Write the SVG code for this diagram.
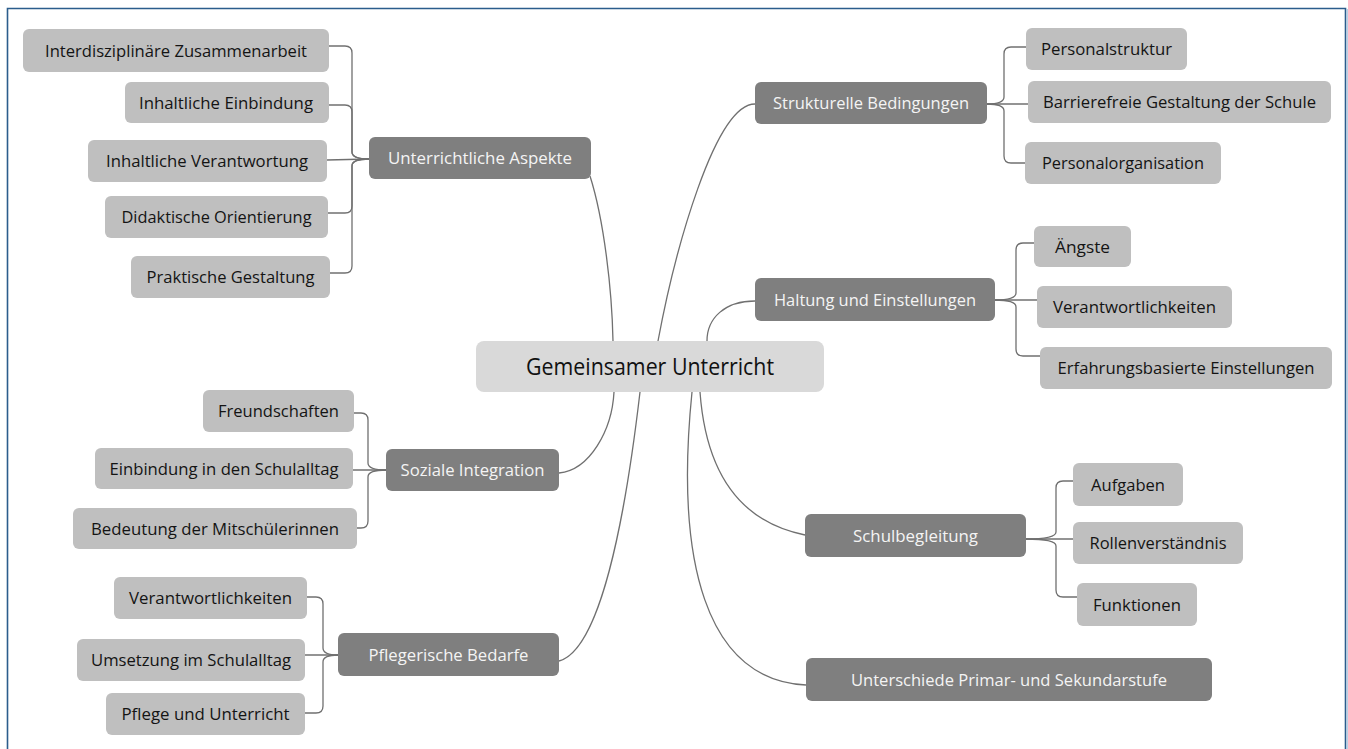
<svg xmlns="http://www.w3.org/2000/svg" width="1348" height="749" viewBox="0 0 1348 749">
<style>
text{font-family:"Open Sans","Noto Sans","Liberation Sans",sans-serif;font-size:17px;text-anchor:middle}
.c rect{fill:#bfbfbf}
.c text{fill:#141414}
.p rect{fill:#7f7f7f}
.p text{fill:#f4f4f4}
.m rect{fill:#d9d9d9}
.m text{fill:#111;font-size:24px}
#connectors path{fill:none;stroke:#707070;stroke-width:1.3}
</style>
<rect x="0" y="0" width="1348" height="749" fill="#ffffff"/>
<path d="M7.5,749 V8.5 H1345.5 V749" fill="none" stroke="#2b5d8c" stroke-width="1.6"/>
<path d="M1347.2,9 V749" fill="none" stroke="#9dbddb" stroke-width="1"/>

<g id="connectors">
<path d="M590,176 C604,220 612,290 613,341"/>
<path d="M658,341 C675,250 715,104 755,104"/>
<path d="M707,341 C707,318 725,301 755,301"/>
<path d="M614,392 C612,430 590,470 559,473"/>
<path d="M640,392 C625,520 600,650 559,661"/>
<path d="M700,392 C705,460 730,520 805,535"/>
<path d="M692,392 C675,560 705,680 806,685"/>
<path d="M329,46 L345,46 Q352,46 352,53 L352,152 Q352,159 369,159"/>
<path d="M329,105 L345,105 Q352,105 352,112 L352,152 Q352,159 369,159"/>
<path d="M327,160 L369,159"/>
<path d="M328,213 L345,213 Q352,213 352,206 L352,166 Q352,159 369,159"/>
<path d="M330,273 L345,273 Q352,273 352,266 L352,166 Q352,159 369,159"/>
<path d="M354,413 L361,413 Q368,413 368,420 L368,463 Q368,470 386,470"/>
<path d="M353,470 L386,470"/>
<path d="M357,528 L361,528 Q368,528 368,521 L368,477 Q368,470 386,470"/>
<path d="M307,597 L316,597 Q323,597 323,604 L323,648 Q323,655 338,655"/>
<path d="M305,655 L338,655"/>
<path d="M305,713 L316,713 Q323,713 323,706 L323,662 Q323,655 338,655"/>
<path d="M987,104 Q1004,104 1004,97 L1004,54 Q1004,47 1011,47 L1026,47"/>
<path d="M987,104 L1028,104"/>
<path d="M987,104 Q1004,104 1004,111 L1004,156 Q1004,163 1011,163 L1025,163"/>
<path d="M995,300 Q1016,300 1016,293 L1016,250 Q1016,243 1023,243 L1034,243"/>
<path d="M995,300 L1037,300"/>
<path d="M995,300 Q1016,300 1016,307 L1016,349 Q1016,356 1023,356 L1040,356"/>
<path d="M1026,539 Q1056,539 1056,532 L1056,488 Q1056,481 1063,481 L1073,481"/>
<path d="M1026,539 L1073,539"/>
<path d="M1026,539 Q1056,539 1056,546 L1056,590 Q1056,597 1063,597 L1077,597"/>
</g>

<g id="n-central" class="m"><rect x="476" y="341" width="348" height="51" rx="8"/><text x="650" y="375" textLength="248" lengthAdjust="spacingAndGlyphs">Gemeinsamer Unterricht</text></g>

<g id="n-unterrichtliche" class="p"><rect x="369" y="137" width="222" height="42" rx="6"/><text x="480" y="164" textLength="184" lengthAdjust="spacingAndGlyphs">Unterrichtliche Aspekte</text></g>
<g id="n-interdisziplinaere" class="c"><rect x="23" y="29" width="306" height="43" rx="6"/><text x="176" y="56.5" textLength="262" lengthAdjust="spacingAndGlyphs">Interdisziplinäre Zusammenarbeit</text></g>
<g id="n-einbindung" class="c"><rect x="125" y="82" width="204" height="41" rx="6"/><text x="226" y="108.5" textLength="174" lengthAdjust="spacingAndGlyphs">Inhaltliche Einbindung</text></g>
<g id="n-verantwortung" class="c"><rect x="88" y="140" width="239" height="42" rx="6"/><text x="207" y="167" textLength="202" lengthAdjust="spacingAndGlyphs">Inhaltliche Verantwortung</text></g>
<g id="n-didaktische" class="c"><rect x="105" y="196" width="223" height="42" rx="6"/><text x="216.5" y="223" textLength="190" lengthAdjust="spacingAndGlyphs">Didaktische Orientierung</text></g>
<g id="n-praktische" class="c"><rect x="131" y="256" width="199" height="42" rx="6"/><text x="230.5" y="283" textLength="168" lengthAdjust="spacingAndGlyphs">Praktische Gestaltung</text></g>

<g id="n-soziale" class="p"><rect x="386" y="449" width="173" height="42" rx="6"/><text x="472.5" y="476" textLength="144" lengthAdjust="spacingAndGlyphs">Soziale Integration</text></g>
<g id="n-freundschaften" class="c"><rect x="203" y="390" width="151" height="42" rx="6"/><text x="278.5" y="417" textLength="121" lengthAdjust="spacingAndGlyphs">Freundschaften</text></g>
<g id="n-einbindung-schulalltag" class="c"><rect x="95" y="448" width="258" height="41" rx="6"/><text x="224" y="474.5" textLength="229" lengthAdjust="spacingAndGlyphs">Einbindung in den Schulalltag</text></g>
<g id="n-bedeutung" class="c"><rect x="73" y="508" width="284" height="41" rx="6"/><text x="215" y="534.5" textLength="248" lengthAdjust="spacingAndGlyphs">Bedeutung der Mitschülerinnen</text></g>

<g id="n-pflegerische" class="p"><rect x="338" y="633" width="221" height="43" rx="6"/><text x="448.5" y="660.5" textLength="160" lengthAdjust="spacingAndGlyphs">Pflegerische Bedarfe</text></g>
<g id="n-verantwortlichkeiten-l" class="c"><rect x="114" y="577" width="193" height="42" rx="6"/><text x="210.5" y="604" textLength="163" lengthAdjust="spacingAndGlyphs">Verantwortlichkeiten</text></g>
<g id="n-umsetzung" class="c"><rect x="77" y="639" width="228" height="42" rx="6"/><text x="191" y="666" textLength="200" lengthAdjust="spacingAndGlyphs">Umsetzung im Schulalltag</text></g>
<g id="n-pflege" class="c"><rect x="106" y="693" width="199" height="42" rx="6"/><text x="205.5" y="720" textLength="168" lengthAdjust="spacingAndGlyphs">Pflege und Unterricht</text></g>

<g id="n-strukturelle" class="p"><rect x="755" y="82" width="232" height="42" rx="6"/><text x="871" y="109" textLength="196" lengthAdjust="spacingAndGlyphs">Strukturelle Bedingungen</text></g>
<g id="n-personalstruktur" class="c"><rect x="1026" y="28" width="161" height="42" rx="6"/><text x="1106.5" y="55" textLength="131" lengthAdjust="spacingAndGlyphs">Personalstruktur</text></g>
<g id="n-barrierefreie" class="c"><rect x="1028" y="81" width="303" height="42" rx="6"/><text x="1179.5" y="108" textLength="273" lengthAdjust="spacingAndGlyphs">Barrierefreie Gestaltung der Schule</text></g>
<g id="n-personalorganisation" class="c"><rect x="1025" y="142" width="196" height="42" rx="6"/><text x="1123" y="169" textLength="162" lengthAdjust="spacingAndGlyphs">Personalorganisation</text></g>

<g id="n-haltung" class="p"><rect x="755" y="278" width="240" height="43" rx="6"/><text x="875" y="305.5" textLength="202" lengthAdjust="spacingAndGlyphs">Haltung und Einstellungen</text></g>
<g id="n-aengste" class="c"><rect x="1034" y="226" width="97" height="41" rx="6"/><text x="1082.5" y="252.5" textLength="55" lengthAdjust="spacingAndGlyphs">Ängste</text></g>
<g id="n-verantwortlichkeiten-r" class="c"><rect x="1037" y="286" width="195" height="42" rx="6"/><text x="1134.5" y="313" textLength="163" lengthAdjust="spacingAndGlyphs">Verantwortlichkeiten</text></g>
<g id="n-erfahrungsbasierte" class="c"><rect x="1040" y="347" width="292" height="42" rx="6"/><text x="1186" y="374" textLength="257" lengthAdjust="spacingAndGlyphs">Erfahrungsbasierte Einstellungen</text></g>

<g id="n-schulbegleitung" class="p"><rect x="805" y="514" width="221" height="43" rx="6"/><text x="915.5" y="541.5" textLength="125" lengthAdjust="spacingAndGlyphs">Schulbegleitung</text></g>
<g id="n-aufgaben" class="c"><rect x="1073" y="463" width="110" height="43" rx="6"/><text x="1128" y="490.5" textLength="74" lengthAdjust="spacingAndGlyphs">Aufgaben</text></g>
<g id="n-rollenverstaendnis" class="c"><rect x="1073" y="522" width="170" height="42" rx="6"/><text x="1158" y="549" textLength="137" lengthAdjust="spacingAndGlyphs">Rollenverständnis</text></g>
<g id="n-funktionen" class="c"><rect x="1077" y="583" width="120" height="43" rx="6"/><text x="1137" y="610.5" textLength="88" lengthAdjust="spacingAndGlyphs">Funktionen</text></g>

<g id="n-unterschiede" class="p"><rect x="806" y="658" width="406" height="43" rx="6"/><text x="1009" y="685.5" textLength="316" lengthAdjust="spacingAndGlyphs">Unterschiede Primar- und Sekundarstufe</text></g>
</svg>
